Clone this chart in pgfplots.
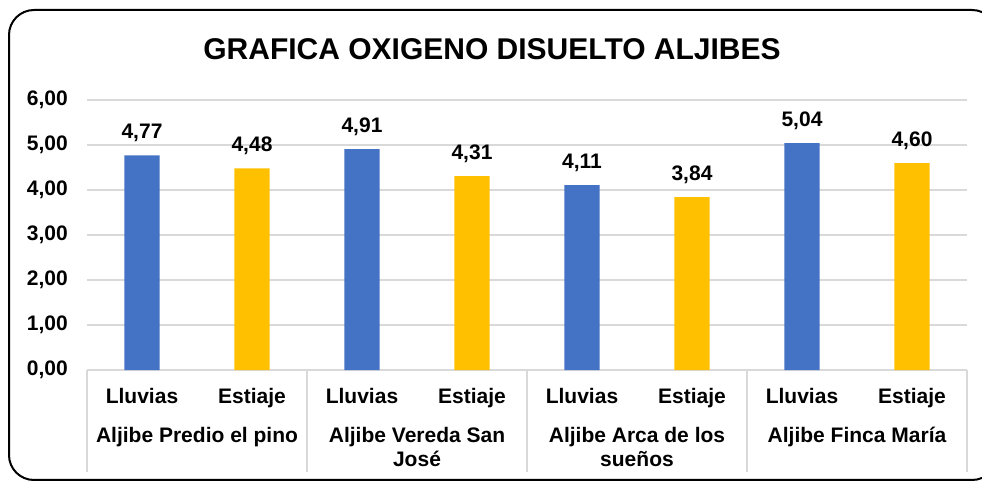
\documentclass[border=0pt]{standalone}
\usepackage{fontspec}
\setmainfont{Liberation Sans}
\usepackage{pgfplots}
\pgfplotsset{compat=1.18}
\definecolor{cblue}{HTML}{4472C4}
\definecolor{cyell}{HTML}{FFC000}
\definecolor{cgrid}{HTML}{D9D9D9}
\newcommand{\lab}{\bfseries\fontsize{21bp}{25bp}\selectfont}
\begin{document}
\begin{tikzpicture}
\useasboundingbox (0,0) rectangle (982bp,481bp);
\begin{scope}
\clip (0,0) rectangle (982bp,481bp);
\draw[line width=2bp, rounded corners=25bp] (9bp,1bp) rectangle (997bp,471bp);
\end{scope}
\node[anchor=base, inner sep=0pt, font=\bfseries\fontsize{30bp}{36bp}\selectfont] at (492bp,421bp) {GRAFICA OXIGENO DISUELTO ALJIBES};
\begin{axis}[
  at={(87bp,111bp)}, anchor=south west,
  scale only axis, width=880bp, height=270bp,
  xmin=-0.5, xmax=7.5, ymin=0, ymax=6,
  ytick={0,1,...,6},
  xtick={0,...,7},
  xticklabels={Lluvias,Estiaje,Lluvias,Estiaje,Lluvias,Estiaje,Lluvias,Estiaje},
  major tick length=0pt,
  ymajorgrids, grid style={cgrid, line width=1.3bp},
  axis x line*=bottom, axis y line*=left,
  x axis line style={cgrid, line width=1.3bp},
  y axis line style={draw=none},
  yticklabel style={font=\lab, anchor=east, inner sep=0pt, xshift=-19bp,
    /pgf/number format/.cd, fixed, fixed zerofill, precision=2, use comma, assume math mode=true},
  xticklabel style={font=\lab, anchor=base, inner sep=0pt, yshift=-33bp},
  ybar, bar width=35bp, bar shift=0pt,
  nodes near coords={\pgfmathprintnumber[fixed,fixed zerofill,precision=2,use comma,assume math mode=true]{\pgfplotspointmeta}},
  every node near coord/.append style={font=\lab, anchor=base, inner sep=0pt, yshift=17bp, text=black},
  clip=false,
]
\addplot[fill=cblue, draw=none] coordinates {(0,4.77) (2,4.91) (4,4.11) (6,5.04)};
\addplot[fill=cyell, draw=none] coordinates {(1,4.48) (3,4.31) (5,3.84) (7,4.60)};
\foreach \s in {-0.5,1.5,3.5,5.5,7.5}{
  \edef\tmp{\noexpand\draw[cgrid, line width=1.3bp] (axis cs:\s,0) -- ([yshift=-102bp]axis cs:\s,0);}\tmp
}
\node[font=\lab, anchor=base, inner sep=0pt] at ([yshift=-72bp]axis cs:0.5,0) {Aljibe Predio el pino};
\node[font=\lab, anchor=base, inner sep=0pt] at ([yshift=-72bp]axis cs:2.5,0) {Aljibe Vereda San};
\node[font=\lab, anchor=base, inner sep=0pt] at ([yshift=-96bp]axis cs:2.5,0) {José};
\node[font=\lab, anchor=base, inner sep=0pt] at ([yshift=-72bp]axis cs:4.5,0) {Aljibe Arca de los};
\node[font=\lab, anchor=base, inner sep=0pt] at ([yshift=-96bp]axis cs:4.5,0) {sueños};
\node[font=\lab, anchor=base, inner sep=0pt] at ([yshift=-72bp]axis cs:6.5,0) {Aljibe Finca María};
\end{axis}
\end{tikzpicture}
\end{document}
